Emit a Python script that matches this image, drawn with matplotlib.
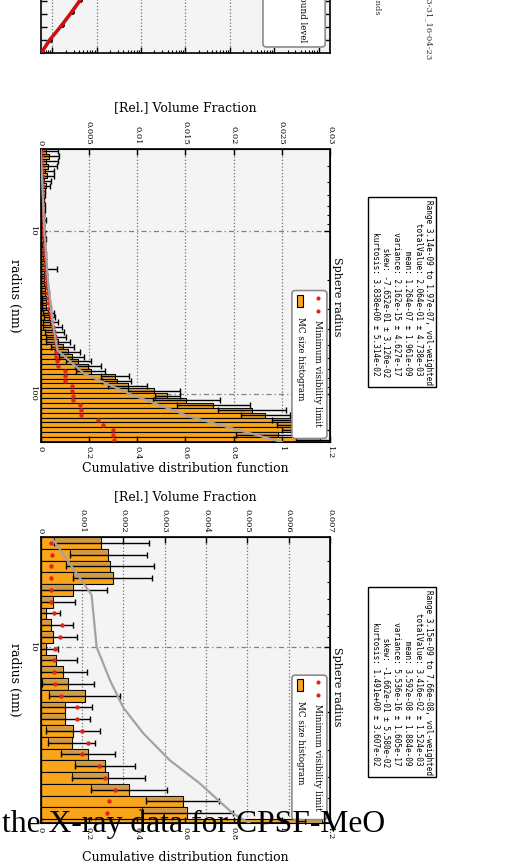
import numpy as np
import matplotlib
matplotlib.use("Agg")
import matplotlib.pyplot as plt
from matplotlib.patches import FancyBboxPatch, Rectangle
from matplotlib.ticker import FixedLocator, FuncFormatter, LogLocator, NullFormatter

plt.rcParams['font.family'] = ['DejaVu Serif']

# upper histogram: volume fraction per log radius bin, in units of 1e-3
hist_range_1 = (3.14, 197.0)   # nm
n_bins_1 = 60
vol_frac_1 = [0.5, 0.9, 0.6, 0.8, 0.4, 0.7, 0.3, 0.5,
              0.15, 0.2, 0.1, 0.15, 0.2, 0.1, 0.2, 0.15, 0.1, 0.2, 0.25, 0.15, 0.2, 0.3, 0.2, 0.3,
              0.5, 0.3, 0.35, 0.3, 0.4, 0.45, 0.5, 0.55, 0.6, 0.8, 0.9, 1.0, 1.2,
              1.45, 1.6, 1.8, 2.3, 2.8, 3.2, 3.9, 4.9, 5.2, 7.7, 7.9, 9.0, 11.7, 13.1,
              15.1, 17.9, 21.9, 23.3, 26.5, 27.0, 27.5, 24.6, 29.0]
vol_err_1 = [1.3, 1.0, 1.2, 0.9, 1.0, 0.7, 0.8, 0.5,
             0.3, 0.25, 0.2, 0.3, 0.25, 0.2, 0.3, 0.2, 0.2, 0.25, 0.3, 0.2, 0.25, 0.3, 0.25, 0.3,
             1.2, 0.3, 0.35, 0.3, 0.35, 0.4, 0.4, 0.45, 0.5, 0.6, 0.6, 0.8, 1.0,
             1.0, 1.0, 1.2, 1.2, 1.3, 1.3, 1.3, 1.3, 1.5, 1.5, 1.5, 2.0, 2.7, 1.3,
             3.5, 3.8, 3.5, 2.5, 2.5, 2.5, 2.5, 4.4, 2.5]
min_vis_1 = [0.05, 0.06, 0.07, 0.08, 0.09, 0.1, 0.11, 0.12, 0.13, 0.14, 0.15, 0.16,
             0.18, 0.2, 0.22, 0.24, 0.26, 0.28, 0.3, 0.32, 0.35, 0.38, 0.41, 0.44,
             0.47, 0.5, 0.55, 0.6, 0.65, 0.7, 0.75, 0.8, 0.9, 1.0, 1.1, 1.2, 1.3,
             1.4, 1.5, 1.5, 1.6, 1.6, 1.6, 1.7, 1.8, 2.5, 2.5, 2.5, 3.2, 3.2, 3.3,
             3.3, 4.1, 4.2, 4.2, 5.9, 6.5, 7.5, 7.5, 7.6]
cdf_radius_1 = [3.14, 10, 20, 37, 54, 75, 100, 138, 197]
cdf_value_1 = [0.0, 0.015, 0.03, 0.05, 0.07, 0.18, 0.37, 0.62, 1.0]
stats_1 = ["Range 3.14e-09 to 1.97e-07, vol-weighted",
           "   totalValue: 2.064e-01 ± 4.738e-03",
           "         mean: 1.264e-07 ± 1.961e-09",
           "     variance: 2.162e-15 ± 4.627e-17",
           "         skew: -7.652e-01 ± 3.126e-02",
           "     kurtosis: 3.838e+00 ± 5.314e-02"]

# lower histogram
hist_range_2 = (3.1, 70.6)     # nm, last bin only partly inside the axis
axis_range_2 = (3.1, 65.0)
n_bins_2 = 25
vol_frac_2 = [1.46, 1.64, 1.68, 1.74, 0.79, 0.30, 0.14, 0.26, 0.30, 0.14, 0.38, 0.54, 0.65,
              1.07, 0.59, 0.59, 0.79, 0.75, 1.15, 1.56, 1.64, 2.14, 3.43, 3.55, 6.80]
vol_err_2 = [1.15, 0.92, 1.07, 0.95, 0.81, 0.53, 0.32, 0.53, 0.57, 0.27, 0.49, 0.57, 0.63,
             0.86, 0.64, 0.60, 0.65, 0.57, 0.65, 0.73, 0.88, 0.92, 0.88, 1.10, 0.90]
min_vis_2 = [0.26, 0.27, 0.26, 0.25, 0.25, 0.26, 0.33, 0.52, 0.46, 0.34, 0.33, 0.31, 0.34,
             0.50, 0.87, 0.87, 0.99, 1.14, 0.99, 1.42, 1.56, 1.79, 1.66, 1.61, 1.60]
cdf_radius_2 = [3.2, 5.74, 10, 14.2, 19, 25, 33.3, 42.6, 58.7, 65]
cdf_value_2 = [0.052, 0.211, 0.232, 0.287, 0.342, 0.425, 0.535, 0.659, 0.797, 0.866]
stats_2 = ["Range 3.15e-09 to 7.66e-08, vol-weighted",
           "   totalValue: 3.416e-02 ± 1.524e-03",
           "         mean: 3.592e-08 ± 1.884e-09",
           "     variance: 5.536e-16 ± 1.605e-17",
           "         skew: -1.662e-01 ± 5.580e-02",
           "     kurtosis: 1.491e+00 ± 3.607e-02"]

# fit curve of the panel cut off at the top of the page
fit_intensity = [5.86e-3, 8.7e-3, 1.65e-2, 2.77e-2, 4.27e-2, 0.08, 0.2]
fit_q = [0.005, 0.05, 0.108, 0.159, 0.204, 0.3, 0.5]

ORANGE = '#f8a51b'
TAN = '#d39a45'
RED = '#e0261b'
BG = '#f4f4f4'


def fmt(v, pos):
    return '%g' % v


def draw_legend(ax):
    ax.add_patch(FancyBboxPatch((0.868, 0.012), 0.121, 0.505, transform=ax.transAxes,
                                boxstyle='round,pad=0,rounding_size=0.012',
                                fc='white', ec='#8c8c8c', lw=1.2, zorder=6))
    ax.plot([0.958, 0.958], [0.492, 0.448], 'o', color=RED, ms=3, mec='none',
            transform=ax.transAxes, zorder=7)
    ax.add_patch(Rectangle((0.885, 0.462), 0.022, 0.04, transform=ax.transAxes,
                           fc=ORANGE, ec='black', lw=0.8, zorder=7))
    ax.text(0.958, 0.415, 'Minimum visibility limit', rotation=-90, ha='center', va='top',
            transform=ax.transAxes, size=6.3, zorder=7)
    ax.text(0.896, 0.425, 'MC size histogram', rotation=-90, ha='center', va='top',
            transform=ax.transAxes, size=6.3, zorder=7)


def draw_histogram(fig, rect, hist_range, n_bins, axis_range, vals, errs, vis,
                   cdf_r, cdf_v, vmax, vstep, top_lab_y, bot_lab_y, title_y):
    ax = fig.add_axes(rect)
    ax2 = ax.twiny()
    ax.set_facecolor(BG)
    ax.set_yscale('log')
    edges = np.geomspace(hist_range[0], hist_range[1], n_bins + 1)
    lo, hi = edges[:-1], edges[1:]
    mid = np.sqrt(lo * hi)
    v = np.array(vals) * 1e-3
    e = np.array(errs) * 1e-3
    left = np.clip(v - e, 0, None)
    ax.barh(lo, v, height=hi - lo, align='edge', color=ORANGE, edgecolor='black', lw=0.8, zorder=2)
    ax.barh(lo, v - left, left=left, height=mid - lo, align='edge', color=TAN,
            edgecolor='black', lw=0.6, zorder=3)
    ax.errorbar(v, mid, xerr=e, fmt='none', ecolor='black', elinewidth=1.0,
                capsize=2.2, capthick=1.0, zorder=4)
    ax.plot(np.array(vis) * 1e-3, mid, 'o', color=RED, ms=3.2, mec='none', zorder=5)

    ax.set_xlim(0, vmax)
    ax.set_ylim(axis_range[1], axis_range[0])
    ax.xaxis.tick_top()
    ax.xaxis.set_label_position('top')
    ax.xaxis.set_major_locator(FixedLocator(np.arange(0, vmax + vstep / 2, vstep)))
    ax.xaxis.set_major_formatter(FuncFormatter(fmt))
    ax.yaxis.set_major_locator(LogLocator(base=10))
    ax.yaxis.set_minor_locator(LogLocator(base=10, subs=np.arange(2, 10)))
    ax.yaxis.set_major_formatter(FuncFormatter(fmt))
    ax.yaxis.set_minor_formatter(NullFormatter())
    ax.tick_params(axis='both', which='both', direction='in', right=True, labelsize=6)
    ax.tick_params(axis='both', which='major', length=4, width=1)
    ax.tick_params(axis='y', which='minor', length=2.5, width=0.8)
    ax.tick_params(axis='x', labelrotation=-90, pad=3)
    ax.tick_params(axis='y', labelrotation=-90, pad=3)
    for lbl in ax.get_yticklabels():
        lbl.set_va('center')
    ax.grid(axis='x', which='major', ls=':', color='#707070', lw=0.9)
    ax.grid(axis='y', which='major', ls=(0, (4, 2.5, 1, 2.5)), color='#808080', lw=0.9)
    ax.set_axisbelow(True)
    for sp in ax.spines.values():
        sp.set_linewidth(1.2)

    ax.set_xlabel('[Rel.] Volume Fraction', size=9)
    ax.xaxis.set_label_coords(0.5, top_lab_y)
    ax.xaxis.label.set_va('center')
    ax.set_ylabel('radius (nm)', size=9, rotation=-90)
    ax.yaxis.set_label_coords(-0.089, 0.5)
    ax.yaxis.label.set_va('center')
    ax.text(1.024, title_y, 'Sphere radius', rotation=-90, ha='center', va='center',
            transform=ax.transAxes, size=8)

    ax2.plot(cdf_v, cdf_r, color='#a3a3a3', lw=1.6, zorder=5)
    ax2.set_xlim(0, 1.2)
    ax2.xaxis.tick_bottom()
    ax2.xaxis.set_label_position('bottom')
    ax2.xaxis.set_major_locator(FixedLocator(np.arange(0, 1.21, 0.2)))
    ax2.xaxis.set_major_formatter(FuncFormatter(fmt))
    ax2.tick_params(axis='x', direction='in', length=4, width=1, labelsize=6,
                    labelrotation=-90, pad=3)
    ax2.set_xlabel('Cumulative distribution function', size=9)
    ax2.xaxis.set_label_coords(0.5, bot_lab_y)
    ax2.xaxis.label.set_va('center')
    draw_legend(ax2)
    return ax


def draw_fit_panel(fig):
    ax = fig.add_axes([0.079, 0.9389, 0.562, 0.3])
    ax.set_facecolor(BG)
    ax.set_xscale('log')
    ax.set_xlim(5.45e-3, 1.82e4)
    ax.set_ylim(0, 1)
    ax.plot(fit_intensity, fit_q, 'o', color='black', ms=2.5, zorder=3)
    ax.plot(fit_intensity, fit_q, color='#cc1010', lw=2.6, zorder=4)
    ax.xaxis.set_major_locator(LogLocator(base=10, numticks=12))
    ax.xaxis.set_minor_locator(LogLocator(base=10, subs=np.arange(2, 10), numticks=12))
    ax.yaxis.set_major_locator(FixedLocator(np.arange(0.05, 1, 0.05)))
    ax.tick_params(axis='both', which='both', direction='in', top=True, right=True,
                   labelbottom=False, labelleft=False, labeltop=False)
    ax.tick_params(which='major', length=4, width=1)
    ax.tick_params(which='minor', length=2, width=0.8)
    ax.grid(axis='x', which='major', ls=':', color='#707070', lw=0.9)
    for sp in ax.spines.values():
        sp.set_linewidth(1.2)
    ax.add_patch(FancyBboxPatch((0.768, 0.023), 0.215, 0.5, transform=ax.transAxes,
                                boxstyle='round,pad=0,rounding_size=0.012',
                                fc='white', ec='#8c8c8c', lw=1.2, zorder=6))
    ax.text(0.903, 0.042, 'Background level', rotation=-90, ha='center', va='bottom',
            transform=ax.transAxes, size=6.3, zorder=7)


fig = plt.figure(figsize=(5.15, 8.67), dpi=100)

draw_fit_panel(fig)
fig.text(0.732, 1 - 15 / 867, 'Results over 10 rounds', rotation=-90, ha='center',
         va='bottom', size=6, color='#333333')
fig.text(0.831, 1 - 60 / 867, '2016-03-31_16-04-23', rotation=-90, ha='center',
         va='bottom', size=6, color='#333333')

draw_histogram(fig, [0.079, 0.4902, 0.562, 0.3379], hist_range_1, n_bins_1, hist_range_1,
               vol_frac_1, vol_err_1, min_vis_1, cdf_radius_1, cdf_value_1,
               0.03, 0.005, 1.14, -0.089, 0.495)
draw_histogram(fig, [0.079, 0.0507, 0.562, 0.3299], hist_range_2, n_bins_2, axis_range_2,
               vol_frac_2, vol_err_2, min_vis_2, cdf_radius_2, cdf_value_2,
               0.007, 0.001, 1.14, -0.122, 0.476)

for stats, y in ((stats_1, 292), (stats_2, 682)):
    fig.text(402 / 515, 1 - y / 867, '\n'.join(stats), rotation=-90, ha='center', va='center',
             family='DejaVu Sans Mono', size=5.6, linespacing=1.25,
             bbox=dict(boxstyle='square,pad=0.35', fc='white', ec='black', lw=1))

fig.text(2 / 515, 1 - 832 / 867, 'the X-ray data for CPSF-MeO', family='Liberation Serif',
         size=22.8, ha='left', va='baseline', color='black')

fig.savefig('out.png', dpi=100)
